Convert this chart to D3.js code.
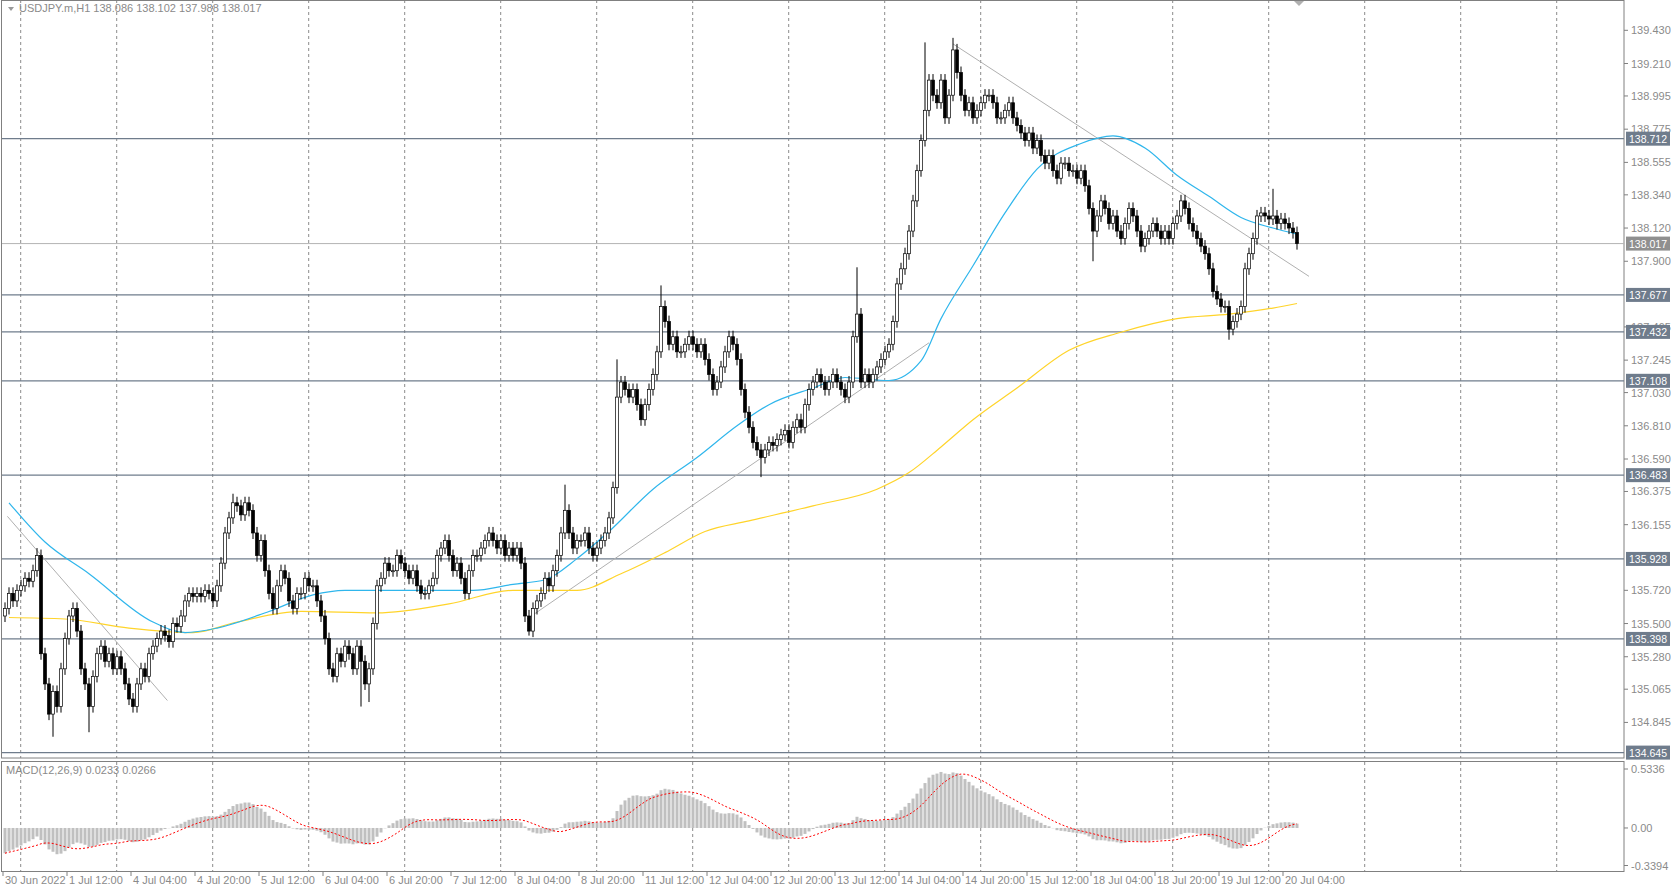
<!DOCTYPE html>
<html>
<head>
<meta charset="utf-8">
<script src="https://cdn.jsdelivr.net/npm/d3@7"></script>
<style>
  body { margin: 0; background: #fff; }
  text { font-family: "Liberation Sans", sans-serif; font-size: 11px; }
</style>
</head>
<body>
<div id="okvir"></div>
<script>
// hourly closes, USDJPY H1, from 30 Jun 2022 20:00
const closes = [
  135.60,135.70,135.65,135.72,135.75,135.80,135.78,135.85,135.95,135.30,135.10,134.90,135.05,134.95,135.20,135.40,
  135.55,135.60,135.45,135.20,135.10,134.95,135.15,135.30,135.35,135.25,135.30,135.20,135.28,135.20,135.10,135.00,
  134.95,135.10,135.20,135.15,135.30,135.35,135.40,135.45,135.42,135.38,135.50,135.48,135.55,135.65,135.70,135.68,
  135.70,135.68,135.72,135.70,135.65,135.75,135.90,136.10,136.20,136.30,136.28,136.22,136.30,136.25,136.10,135.95,
  136.05,135.85,135.70,135.60,135.75,135.85,135.80,135.65,135.60,135.70,135.70,135.80,135.75,135.75,135.65,135.55,
  135.40,135.20,135.15,135.30,135.25,135.35,135.30,135.20,135.35,135.25,135.10,135.20,135.50,135.75,135.80,135.90,
  135.85,135.85,135.95,135.90,135.85,135.80,135.85,135.75,135.70,135.70,135.75,135.80,135.95,136.00,136.05,135.95,
  135.85,135.90,135.80,135.70,135.85,135.95,135.95,136.00,136.05,136.10,136.05,136.00,136.05,135.95,136.00,135.95,
  136.00,135.90,135.55,135.45,135.60,135.65,135.70,135.80,135.75,135.85,135.95,136.10,136.25,136.10,136.00,136.05,
  136.05,136.10,136.00,135.95,136.00,136.05,136.10,136.20,136.40,137.00,137.10,137.05,137.00,137.05,136.95,136.85,
  136.95,137.05,137.15,137.30,137.60,137.50,137.35,137.40,137.30,137.30,137.35,137.40,137.35,137.30,137.35,137.25,
  137.15,137.05,137.10,137.20,137.30,137.40,137.35,137.25,137.05,136.90,136.80,136.70,136.65,136.60,136.65,136.70,
  136.68,136.72,136.75,136.78,136.70,136.80,136.85,136.80,136.95,137.05,137.10,137.15,137.10,137.05,137.10,137.15,
  137.10,137.05,137.00,137.10,137.40,137.55,137.10,137.15,137.10,137.15,137.20,137.25,137.30,137.35,137.50,137.75,
  137.85,137.95,138.10,138.30,138.50,138.70,138.90,139.10,139.00,138.95,139.10,138.85,139.00,139.30,139.15,139.00,
  138.90,138.95,138.85,138.90,138.95,139.00,139.00,138.95,138.85,138.85,138.90,138.95,138.85,138.80,138.75,138.70,
  138.75,138.65,138.70,138.60,138.55,138.60,138.50,138.45,138.55,138.55,138.50,138.50,138.45,138.50,138.40,138.25,
  138.10,138.20,138.30,138.25,138.15,138.20,138.10,138.05,138.15,138.25,138.20,138.10,138.00,138.05,138.10,138.15,
  138.10,138.05,138.10,138.05,138.15,138.20,138.30,138.25,138.15,138.10,138.05,138.00,137.95,137.85,137.70,137.65,
  137.60,137.60,137.45,137.50,137.55,137.60,137.85,137.95,138.05,138.20,138.22,138.20,138.18,138.20,138.15,138.18,
  138.15,138.12,138.09,138.017
];
const firstOpen = 135.55;
// notable wicks: [bar, high, low]
const spikes = [
  [8,136.00,null],[12,null,134.75],[21,null,134.78],[57,136.36,null],[89,null,134.95],[91,null,134.98],
  [131,null,135.42],[140,136.42,null],[153,137.25,null],[164,137.74,null],[189,null,136.47],
  [213,137.86,null],[230,139.35,null],[237,139.38,null],[272,null,137.90],[306,null,137.38],[317,138.38,null]
];
const maBlue = [[1,136.30],[10,136.04],[21,135.83],[37,135.51],[45,135.44],[53,135.47],[66,135.58],[77,135.69],
  [85,135.72],[95,135.72],[106,135.72],[117,135.72],[127,135.76],[135,135.79],[143,135.93],[151,136.11],[162,136.39],
  [173,136.60],[183,136.81],[191,136.95],[202,137.06],[210,137.13],[221,137.11],[229,137.24],[234,137.52],[242,137.87],
  [250,138.22],[258,138.51],[269,138.68],[277,138.73],[285,138.65],[293,138.47],[301,138.33],[309,138.19],[317,138.12],[323,138.08]];
const maYellow = [[1,135.54],[15,135.53],[31,135.47],[47,135.44],[58,135.51],[74,135.58],[93,135.57],[111,135.63],
  [127,135.72],[143,135.72],[154,135.83],[165,135.97],[175,136.11],[186,136.18],[202,136.28],[218,136.39],[226,136.50],
  [234,136.67],[242,136.85],[253,137.06],[266,137.31],[279,137.43],[293,137.52],[306,137.55],[317,137.59],[323,137.62]];
const trendLines = [[[237,139.34],[326,137.80]],[[130.5,135.53],[231,137.36]],[[0.6,136.21],[40.6,134.99]]];
const levels = [138.712,137.677,137.432,137.108,136.483,135.928,135.398,134.645];
const bid = 138.017;
const priceTicks = ["139.430","139.210","138.995","138.775","138.555","138.340","138.120","137.900","137.465",
  "137.245","137.030","136.810","136.590","136.375","136.155","135.720","135.500","135.280","135.065","134.845"];
const macdTicks = ["0.5336","0.00","-0.3394"];
const timeLabels = ["30 Jun 2022","1 Jul 12:00","4 Jul 04:00","4 Jul 20:00","5 Jul 12:00","6 Jul 04:00","6 Jul 20:00",
  "7 Jul 12:00","8 Jul 04:00","8 Jul 20:00","11 Jul 12:00","12 Jul 04:00","12 Jul 20:00","13 Jul 12:00","14 Jul 04:00",
  "14 Jul 20:00","15 Jul 12:00","18 Jul 04:00","18 Jul 20:00","19 Jul 12:00","20 Jul 04:00"];

const W = 1671, H = 889, axisX = 1624;
const x = d3.scaleLinear().domain([0, 1]).range([5, 9]);
const y = d3.scaleLinear().domain([134.645, 139.430]).range([752.6, 30.3]);
const ym = d3.scaleLinear().domain([-0.3394, 0.5336]).range([865.5, 769]);

const candles = closes.map((c, i) => {
  const o = i === 0 ? firstOpen : closes[i - 1];
  let h = Math.max(o, c) + 0.04, l = Math.min(o, c) - 0.04;
  const s = spikes.find(d => d[0] === i);
  if (s) { if (s[1] != null) h = s[1]; if (s[2] != null) l = s[2]; }
  return {i, o, h, l, c};
});

// MACD 12,26,9 (signal = SMA of MACD, as in MT4)
let e12 = 135.68, e26 = 135.92;
const macd = closes.map(c => {
  e12 += (c - e12) * 2 / 13; e26 += (c - e26) * 2 / 27; return e12 - e26;
});
const signal = macd.map((m, i) => d3.mean(macd.slice(Math.max(0, i - 8), i + 1)));

const svg = d3.select("#okvir").append("svg").attr("width", W).attr("height", H);
svg.append("rect").attr("width", W).attr("height", H).attr("fill", "#fff");

// vertical grid
for (let gx = 20.7; gx < axisX; gx += 96) {
  [[0, 758], [762, 871]].forEach(([a, b]) => svg.append("line").attr("x1", gx).attr("x2", gx).attr("y1", a).attr("y2", b)
    .attr("stroke", "#8c8c8c").attr("stroke-dasharray", "3,3"));
}

// pane frames
svg.append("rect").attr("x", 1.5).attr("y", 0.5).attr("width", axisX - 1.5).attr("height", 757.5)
  .attr("fill", "none").attr("stroke", "#808080");
svg.append("rect").attr("x", 1.5).attr("y", 761.5).attr("width", axisX - 1.5).attr("height", 110)
  .attr("fill", "none").attr("stroke", "#808080");

// levels
levels.forEach(v => svg.append("line").attr("x1", 2).attr("x2", axisX).attr("y1", y(v)).attr("y2", y(v))
  .attr("stroke", "#6f7c8c").attr("stroke-width", 1.2));
svg.append("line").attr("x1", 2).attr("x2", axisX).attr("y1", y(bid)).attr("y2", y(bid)).attr("stroke", "#b4b4b4");

// trendlines
trendLines.forEach(t => svg.append("line").attr("x1", x(t[0][0])).attr("y1", y(t[0][1]))
  .attr("x2", x(t[1][0])).attr("y2", y(t[1][1])).attr("stroke", "#b0b0b0"));

// moving averages
const ln = d3.line().x(d => x(d[0])).y(d => y(d[1])).curve(d3.curveMonotoneX);
svg.append("path").attr("d", ln(maYellow)).attr("fill", "none").attr("stroke", "#ffd42a").attr("stroke-width", 1.2);
svg.append("path").attr("d", ln(maBlue)).attr("fill", "none").attr("stroke", "#2fb6ec").attr("stroke-width", 1.2);

// candles
const cg = svg.append("g");
cg.selectAll("line").data(candles).join("line")
  .attr("x1", d => x(d.i)).attr("x2", d => x(d.i)).attr("y1", d => y(d.h)).attr("y2", d => y(d.l))
  .attr("stroke", "#000");
cg.selectAll("rect").data(candles).join("rect")
  .attr("x", d => x(d.i) - 1.5).attr("width", 3)
  .attr("y", d => y(Math.max(d.o, d.c))).attr("height", d => Math.max(1, Math.abs(y(d.o) - y(d.c))))
  .attr("fill", d => d.c >= d.o ? "#fff" : "#000").attr("stroke", "#000").attr("stroke-width", 0.7);

// MACD
svg.append("g").selectAll("rect").data(macd).join("rect")
  .attr("x", (d, i) => x(i) - 1.5).attr("width", 3)
  .attr("y", d => Math.min(ym(d), ym(0))).attr("height", d => Math.abs(ym(d) - ym(0)))
  .attr("fill", "#c0c0c0");
svg.append("path").attr("d", d3.line().x((d, i) => x(i)).y(d => ym(d))(signal))
  .attr("fill", "none").attr("stroke", "#ff0000").attr("stroke-dasharray", "2,2");

// price axis
priceTicks.forEach(t => {
  const py = y(+t);
  svg.append("line").attr("x1", axisX).attr("x2", axisX + 4).attr("y1", py).attr("y2", py).attr("stroke", "#808080");
  svg.append("text").attr("x", axisX + 7).attr("y", py + 4).attr("fill", "#8a8a8a").text(t);
});
const box = (v, fill) => {
  const py = y(v);
  svg.append("rect").attr("x", axisX + 2).attr("y", py - 7).attr("width", 44).attr("height", 14).attr("fill", fill);
  svg.append("text").attr("x", axisX + 24).attr("y", py + 4).attr("text-anchor", "middle")
    .style("font-size", "10.5px").attr("fill", "#fff").text(v.toFixed(3));
};
levels.forEach(v => box(v, "#6f7c8c"));
box(bid, "#8f8f8f");
macdTicks.forEach(t => {
  const py = ym(+t);
  svg.append("line").attr("x1", axisX).attr("x2", axisX + 4).attr("y1", py).attr("y2", py).attr("stroke", "#808080");
  svg.append("text").attr("x", axisX + 7).attr("y", py + 4).attr("fill", "#8a8a8a").text(t);
});

// time axis
timeLabels.forEach((t, k) => {
  const tx = x(16 * k) - 2;
  svg.append("line").attr("x1", tx).attr("x2", tx).attr("y1", 872).attr("y2", 876).attr("stroke", "#808080");
  svg.append("text").attr("x", tx + 2).attr("y", 884).attr("fill", "#8a8a8a").text(t);
});

// captions
svg.append("path").attr("d", "M8,7 L14,7 L11,11 Z").attr("fill", "#999");
svg.append("text").attr("x", 19).attr("y", 12).attr("fill", "#8a8a8a").text("USDJPY.m,H1  138.086 138.102 137.988 138.017");
svg.append("text").attr("x", 6).attr("y", 774).attr("fill", "#8a8a8a").text("MACD(12,26,9) 0.0233 0.0266");
svg.append("path").attr("d", "M1294,1 L1304,1 L1299,6 Z").attr("fill", "#b0b0b0");
</script>
</body>
</html>
